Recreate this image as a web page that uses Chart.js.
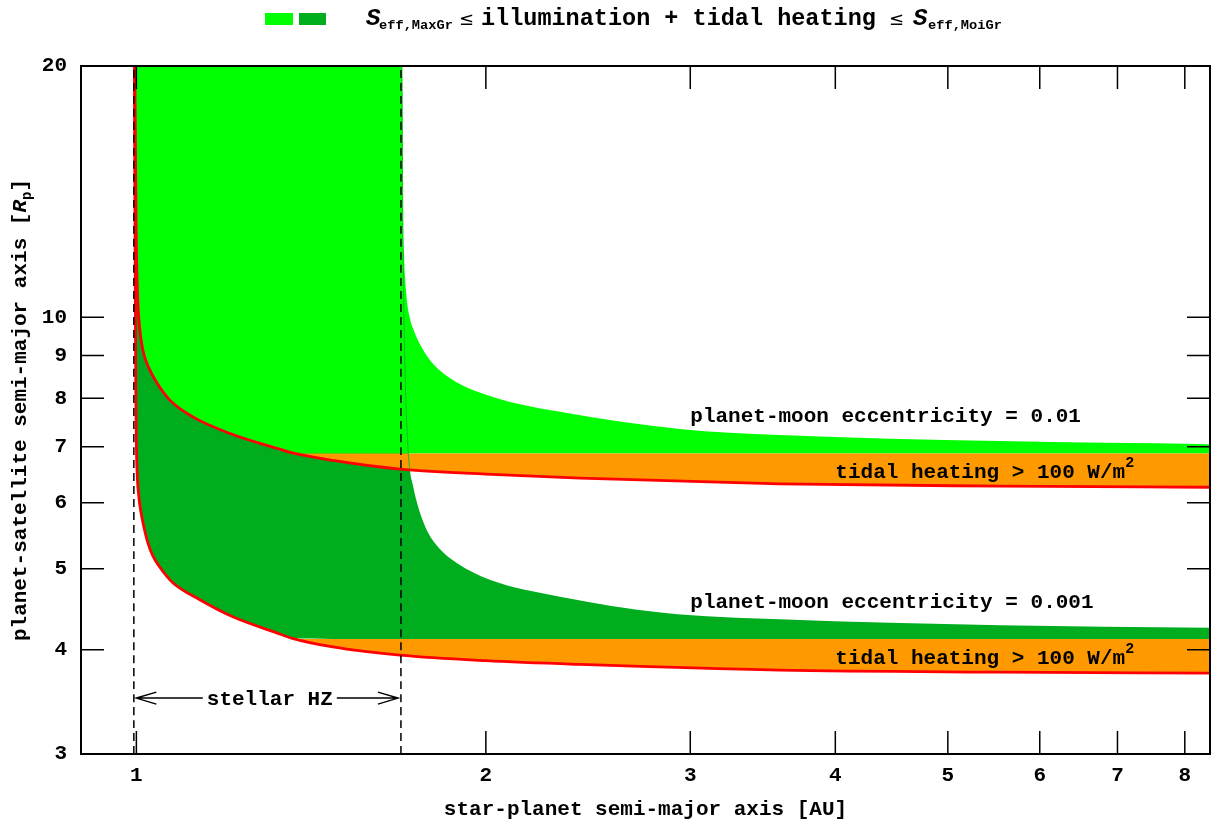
<!DOCTYPE html>
<html>
<head>
<meta charset="utf-8">
<script src="https://cdn.jsdelivr.net/npm/chart.js@4.4.0/dist/chart.umd.min.js"></script>
<style>
  html, body { margin: 0; padding: 0; background: #fff; }
  #wrap { width: 1212px; height: 823px; position: relative; }
</style>
</head>
<body>
<div id="wrap"><canvas id="chart"></canvas></div>
<script>
// axis ranges and ticks
const xMin = 0.896, xMax = 8.41;
const yMin = 3, yMax = 20;
const xTickValues = [1, 2, 3, 4, 5, 6, 7, 8];
const yTickValues = [3, 4, 5, 6, 7, 8, 9, 10, 20];

// stellar habitable zone edges [AU]
const hzEdges = [0.995, 1.69];

// tidal heating = 100 W/m^2 limits (red curves), e = 0.001 and e = 0.01
const redLowX = [0.99604, 0.99703, 0.99802, 0.99901, 1.0002, 1.00199, 1.00497, 1.00897, 1.01499, 1.02307,
                 1.03326, 1.04771, 1.075, 1.1341, 1.2106, 1.321, 1.36, 1.4766, 1.6865, 2.0, 2.41, 3.58, 5.544, 8.41];
const redLowY = [20, 13.82, 10.49, 7.96, 6.94, 6.42, 6.09, 5.85, 5.61, 5.37,
                 5.18, 5.02, 4.81, 4.59, 4.38, 4.19, 4.13, 4.03, 3.94, 3.88, 3.84, 3.78, 3.76, 3.75];
const redHighX = [0.99703, 0.99822, 0.9996, 1.00199, 1.00597, 1.01297, 1.0251, 1.04149, 1.0687, 1.1185,
                  1.2106, 1.321, 1.36, 1.4766, 1.6865, 2.0, 2.41, 3.58, 5.544, 8.41];
const redHighY = [20, 15.87, 12.72, 10.79, 9.79, 9.14, 8.70, 8.35, 7.96, 7.60,
                  7.24, 6.97, 6.885, 6.74, 6.58, 6.49, 6.42, 6.32, 6.28, 6.26];

// top of the orange bands
const tidalBandLow = 4.12;
const tidalBandHigh = 6.87;

// outer edges of the habitable moon orbits (dark: e = 0.001, light: e = 0.01)
const darkTopX = [0.99604, 1.6932, 1.6966, 1.7033, 1.7135, 1.7203, 1.7304, 1.7441, 1.7615, 1.7826,
                  1.8255, 1.8881, 2.0158, 2.3165, 2.8413, 3.58, 5.544, 8.41];
const darkTopY = [20, 20, 12.72, 8.82, 7.00, 6.56, 6.30, 6.01, 5.75, 5.53,
                  5.28, 5.08, 4.85, 4.63, 4.43, 4.35, 4.28, 4.25];
const lightTopX = [0.99703, 1.6932, 1.6949, 1.6999, 1.7084, 1.7203, 1.7372, 1.7548, 1.7896, 1.8621,
                   2.0158, 2.3489, 2.9386, 3.58, 5.544, 8.41];
const lightTopY = [20, 20, 15.0, 12.04, 10.64, 9.98, 9.58, 9.29, 8.89, 8.46,
                   8.05, 7.68, 7.35, 7.23, 7.11, 7.05];

const LIGHT = '#00ff00', DARK = '#00ad1f', ORANGE = '#ff9900', RED = '#ff0000';
const MONO = "'Liberation Mono', 'Courier New', monospace";

const pts = (xs, ys) => xs.map((v, i) => ({ x: v, y: ys[i] }));
const floorAt = (xs, ys, h) => xs.map((v, i) => ({ x: v, y: Math.max(ys[i], h) }));
const tail = (xs, ys, from) => pts(xs, ys).filter(p => p.x >= from);
const bandStart = 1.36;

function area(data, target, color, order) {
  return { data, fill: target, backgroundColor: color, borderWidth: 0, pointRadius: 0, order, cubicInterpolationMode: 'monotone' };
}
function edge(data) {
  return { data, fill: false, borderWidth: 0, pointRadius: 0, order: 30, cubicInterpolationMode: 'monotone' };
}
function curve(data, color, width, order, dash) {
  return { data, fill: false, borderColor: color, borderWidth: width, pointRadius: 0, order,
           borderDash: dash || [], cubicInterpolationMode: 'monotone' };
}

const datasets = [
  area(pts(darkTopX, darkTopY), 1, DARK, 10),                                  // 0
  edge(floorAt(redLowX, redLowY, tidalBandLow)),                               // 1
  area([{ x: bandStart, y: tidalBandLow }, { x: xMax, y: tidalBandLow }], 3, ORANGE, 9), // 2
  edge(tail(redLowX, redLowY, bandStart)),                                     // 3
  area(pts(lightTopX, lightTopY), 5, LIGHT, 8),                                // 4
  edge(floorAt(redHighX, redHighY, tidalBandHigh)),                            // 5
  area([{ x: bandStart, y: tidalBandHigh }, { x: xMax, y: tidalBandHigh }], 7, ORANGE, 7), // 6
  edge(tail(redHighX, redHighY, bandStart)),                                   // 7
  curve(pts(darkTopX, darkTopY).slice(1, 6), '#10c020', 1, 6),                 // 8
  curve(pts(redLowX, redLowY), RED, 2.8, 2),                                   // 9
  curve(pts(redHighX, redHighY), RED, 2.8, 2),                                 // 10
  curve([{ x: hzEdges[0], y: yMin }, { x: hzEdges[0], y: yMax }], '#000', 1.5, 1, [8, 5]),
  curve([{ x: hzEdges[1], y: yMin }, { x: hzEdges[1], y: yMax }], '#000', 1.5, 1, [8, 5])
];

// annotations inside the plot (data coordinates, left/baseline)
const notes = [
  { text: 'planet-moon eccentricity = 0.01', x: 3.0, y: 7.49 },
  { text: 'planet-moon eccentricity = 0.001', x: 3.0, y: 4.49 },
  { text: 'tidal heating > 100 W/m', sup: '2', x: 4.0, y: 6.42 },
  { text: 'tidal heating > 100 W/m', sup: '2', x: 4.0, y: 3.85 }
];
const hzArrow = { x1: 1.0, x2: 1.68, y: 3.5, text: 'stellar HZ', tx: 1.303 };

function drawPieces(ctx, pieces, x0, y0, align) {
  let total = 0;
  pieces.forEach(p => { ctx.font = p.font; p.w = ctx.measureText(p.t).width; total += p.w; });
  let cx = align === 'center' ? x0 - total / 2 : x0;
  pieces.forEach(p => { ctx.font = p.font; ctx.fillText(p.t, cx, y0 + (p.dy || 0)); cx += p.w; });
}

const overlay = {
  id: 'overlay',
  afterDatasetsDraw(chart) {
    const { ctx, chartArea: a, scales: { x, y } } = chart;
    ctx.save();
    ctx.strokeStyle = '#000';
    ctx.fillStyle = '#000';

    // mirrored inward ticks
    ctx.lineWidth = 1.5;
    ctx.beginPath();
    xTickValues.forEach(v => {
      const px = x.getPixelForValue(v);
      ctx.moveTo(px, a.bottom); ctx.lineTo(px, a.bottom - 23);
      ctx.moveTo(px, a.top); ctx.lineTo(px, a.top + 23);
    });
    yTickValues.forEach(v => {
      const py = y.getPixelForValue(v);
      ctx.moveTo(a.left, py); ctx.lineTo(a.left + 23, py);
      ctx.moveTo(a.right, py); ctx.lineTo(a.right - 23, py);
    });
    ctx.stroke();

    // frame
    ctx.lineWidth = 2;
    ctx.strokeRect(a.left, a.top, a.right - a.left, a.bottom - a.top);

    // plot labels
    ctx.textBaseline = 'alphabetic';
    ctx.textAlign = 'left';
    notes.forEach(n => {
      const px = x.getPixelForValue(n.x), py = y.getPixelForValue(n.y);
      ctx.font = `bold 21px ${MONO}`;
      ctx.fillText(n.text, px, py);
      if (n.sup) {
        const w = ctx.measureText(n.text).width;
        ctx.font = `bold 15px ${MONO}`;
        ctx.fillText(n.sup, px + w, py - 11);
      }
    });

    // stellar HZ arrow
    const ax1 = x.getPixelForValue(hzArrow.x1), ax2 = x.getPixelForValue(hzArrow.x2);
    const ay = y.getPixelForValue(hzArrow.y), tx = x.getPixelForValue(hzArrow.tx);
    ctx.lineWidth = 1.5;
    ctx.beginPath();
    ctx.moveTo(ax1, ay); ctx.lineTo(ax2, ay);
    ctx.moveTo(ax1 + 20, ay - 6); ctx.lineTo(ax1, ay); ctx.lineTo(ax1 + 20, ay + 6);
    ctx.moveTo(ax2 - 20, ay - 6); ctx.lineTo(ax2, ay); ctx.lineTo(ax2 - 20, ay + 6);
    ctx.stroke();
    ctx.font = `bold 21px ${MONO}`;
    const tw = ctx.measureText(hzArrow.text).width;
    ctx.fillStyle = '#fff';
    ctx.fillRect(tx - tw / 2 - 4, ay - 11, tw + 8, 22);
    ctx.fillStyle = '#000';
    ctx.textAlign = 'center';
    ctx.fillText(hzArrow.text, tx, ay + 7);
    ctx.restore();
  },
  afterDraw(chart) {
    const { ctx, chartArea: a } = chart;
    ctx.save();
    ctx.fillStyle = '#000';
    ctx.textBaseline = 'alphabetic';
    ctx.textAlign = 'left';

    // legend / key line
    ctx.fillStyle = LIGHT; ctx.fillRect(265, 13, 28, 12);
    ctx.fillStyle = DARK; ctx.fillRect(299, 13, 27, 12);
    ctx.fillStyle = '#000';
    ctx.font = `bold italic 24px ${MONO}`; ctx.fillText('S', 366, 25);
    ctx.font = `bold 13.7px ${MONO}`; ctx.fillText('eff,MaxGr', 379, 29);
    ctx.font = "18px 'DejaVu Sans'"; ctx.fillText('\u2264', 459, 25);
    ctx.font = `bold 23.5px ${MONO}`; ctx.fillText('illumination + tidal heating', 481, 25);
    ctx.font = "18px 'DejaVu Sans'"; ctx.fillText('\u2264', 889, 25);
    ctx.font = `bold italic 24px ${MONO}`; ctx.fillText('S', 913, 25);
    ctx.font = `bold 13.7px ${MONO}`; ctx.fillText('eff,MoiGr', 928, 29);

    // x axis title
    ctx.font = `bold 21px ${MONO}`;
    ctx.textAlign = 'center';
    ctx.fillText('star-planet semi-major axis [AU]', (a.left + a.right) / 2, 815);

    // y axis title (rotated)
    ctx.translate(26, (a.top + a.bottom) / 2);
    ctx.rotate(-Math.PI / 2);
    ctx.textAlign = 'left';
    drawPieces(ctx, [
      { t: 'planet-satellite semi-major axis [', font: `bold 21px ${MONO}` },
      { t: 'R', font: `bold italic 21px ${MONO}` },
      { t: 'p', font: `bold 14px ${MONO}`, dy: 5 },
      { t: ']', font: `bold 21px ${MONO}` }
    ], 0, 0, 'center');
    ctx.restore();
  }
};

const tickFont = { family: MONO, size: 21, weight: 'bold' };

new Chart(document.getElementById('chart'), {
  type: 'line',
  data: { datasets },
  options: {
    responsive: true,
    maintainAspectRatio: false,
    animation: false,
    events: [],
    layout: { padding: { top: 66, right: 2, left: 0, bottom: 0 } },
    plugins: { legend: { display: false }, title: { display: false }, tooltip: { enabled: false } },
    scales: {
      x: {
        type: 'logarithmic', min: xMin, max: xMax,
        grid: { display: false, drawTicks: false }, border: { display: false },
        ticks: { font: tickFont, color: '#000', padding: 9, autoSkip: false, maxRotation: 0, callback: v => String(v) },
        afterBuildTicks: s => { s.ticks = xTickValues.map(v => ({ value: v })); },
        afterFit: s => { s.height = 69; }
      },
      y: {
        type: 'logarithmic', min: yMin, max: yMax,
        grid: { display: false, drawTicks: false }, border: { display: false },
        ticks: { font: tickFont, color: '#000', padding: 14, autoSkip: false, callback: v => String(v) },
        afterBuildTicks: s => { s.ticks = yTickValues.map(v => ({ value: v })); },
        afterFit: s => { s.width = 81; }
      }
    }
  },
  plugins: [overlay]
});
</script>
</body>
</html>
